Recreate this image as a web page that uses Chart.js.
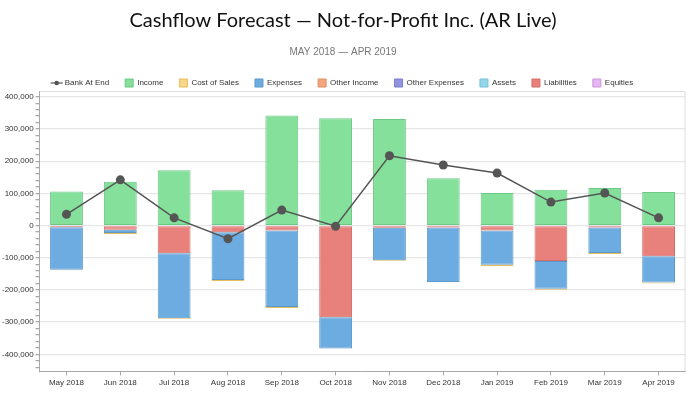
<!DOCTYPE html>
<html>
<head>
<meta charset="utf-8">
<script src="https://cdn.jsdelivr.net/npm/chart.js@4.4.1/dist/chart.umd.min.js"></script>
<style>
  html, body { margin: 0; padding: 0; background: #fff; }
  #wrap { width: 690px; height: 393px; }
</style>
</head>
<body>
<div id="wrap"><canvas id="cashChart"></canvas></div>
<script>
// Monatsachse und Werte
const months = ['May 2018', 'Jun 2018', 'Jul 2018', 'Aug 2018', 'Sep 2018', 'Oct 2018',
  'Nov 2018', 'Dec 2018', 'Jan 2019', 'Feb 2019', 'Mar 2019', 'Apr 2019'];

const bankAtEnd    = [35000, 142000, 24000, -41000, 48000, -2000, 217000, 188000, 163000, 73000, 101000, 24000];
const income       = [106000, 136000, 172000, 110000, 342000, 333000, 331000, 147000, 101000, 111000, 117000, 104000];
const costOfSales  = [-2000, -4000, -2000, -3000, -3000, -1000, -2000, -1000, -4000, -3000, -3000, -3000];
const expenses     = [-132000, -10000, -202000, -148000, -238000, -97000, -101000, -169000, -107000, -86000, -79000, -82000];
const otherIncome  = [0, 0, 0, 0, 0, 0, 0, 0, 0, 0, 0, 0];
const otherExpense = [0, 0, 0, 0, 0, 0, 0, 0, 0, 0, 0, 0];
const assets       = [0, 0, 0, 0, 0, 0, 0, 0, 0, 0, 0, 0];
const liabilities  = [-5000, -13000, -86000, -21000, -15000, -285000, -7000, -6000, -15000, -110000, -6000, -95000];
const equities     = [0, 0, 0, 0, 0, 0, 0, 0, 0, 0, 0, 0];

// Achse
const yMin = -453000;
const yMax = 418000;
const yMajorTicks = [-400000, -300000, -200000, -100000, 0, 100000, 200000, 300000, 400000];
const yMinorStep = 20000;

const fmt = v => Number(v).toLocaleString('en-US');

function barSet(label, data, bg, border, order) {
  return {
    type: 'bar',
    label: label,
    data: data,
    backgroundColor: bg,
    borderColor: border,
    borderWidth: 1,
    borderSkipped: false,
    order: order,
    barPercentage: 0.61,
    categoryPercentage: 1
  };
}

// Linie + Punkt fuer den ersten Legenden-Eintrag, Rahmen oben/rechts
const extras = {
  id: 'extras',
  beforeDatasetsDraw(chart) {
    const { ctx, chartArea: a } = chart;
    ctx.save();
    ctx.strokeStyle = '#dedede';
    ctx.lineWidth = 1;
    ctx.beginPath();
    ctx.moveTo(a.left, a.top + 0.5);
    ctx.lineTo(a.right - 0.5, a.top + 0.5);
    ctx.lineTo(a.right - 0.5, a.bottom);
    ctx.stroke();
    ctx.restore();
  },
  afterDraw(chart) {
    const hb = chart.legend && chart.legend.legendHitBoxes[0];
    if (!hb) return;
    const ctx = chart.ctx;
    const cy = hb.top + hb.height / 2;
    const cx = hb.left + 4;
    ctx.save();
    ctx.strokeStyle = '#555';
    ctx.fillStyle = '#555';
    ctx.lineWidth = 1.2;
    ctx.beginPath();
    ctx.moveTo(cx - 6, cy);
    ctx.lineTo(cx + 6, cy);
    ctx.stroke();
    ctx.beginPath();
    ctx.arc(cx, cy, 2.3, 0, Math.PI * 2);
    ctx.fill();
    ctx.restore();
  }
};

const legendOrder = ['Bank At End', 'Income', 'Cost of Sales', 'Expenses', 'Other Income',
  'Other Expenses', 'Assets', 'Liabilities', 'Equities'];

const chart = new Chart(document.getElementById('cashChart'), {
  data: {
    labels: months,
    datasets: [
      {
        type: 'line',
        label: 'Bank At End',
        data: bankAtEnd,
        borderColor: '#555555',
        backgroundColor: '#555555',
        borderWidth: 1.5,
        pointRadius: 4.5,
        pointBackgroundColor: '#555555',
        pointBorderWidth: 0,
        tension: 0,
        order: 0
      },
      barSet('Income', income, '#84e09a', '#6cc884', 1),
      barSet('Cost of Sales', costOfSales, '#f7d88a', '#e6be5a', 4),
      barSet('Expenses', expenses, '#6cace0', '#5b98cc', 3),
      barSet('Other Income', otherIncome, '#f4a77e', '#dd8f66', 5),
      barSet('Other Expenses', otherExpense, '#9093e0', '#7a7dcc', 6),
      barSet('Assets', assets, '#93d8ea', '#78c0d4', 7),
      barSet('Liabilities', liabilities, '#e8807b', '#d46d68', 2),
      barSet('Equities', equities, '#e6b5f3', '#cc98da', 8)
    ]
  },
  options: {
    responsive: true,
    maintainAspectRatio: false,
    animation: false,
    layout: { padding: { left: 0, right: 4, bottom: 2, top: 0 } },
    plugins: {
      title: {
        display: true,
        text: 'Cashflow Forecast \u2014 Not-for-Profit Inc. (AR Live)',
        color: '#111',
        font: { family: 'Lato', size: 20, weight: 'normal' },
        padding: { top: 9, bottom: 13 }
      },
      subtitle: {
        display: true,
        text: 'MAY 2018 \u2014 APR 2019',
        color: '#777',
        font: { family: 'Liberation Sans', size: 10 },
        padding: { top: 0, bottom: 5 }
      },
      legend: {
        display: true,
        position: 'top',
        labels: {
          font: { family: 'Liberation Sans', size: 8 },
          color: '#333',
          boxWidth: 8,
          boxHeight: 8,
          padding: 16,
          sort: (a, b) => legendOrder.indexOf(a.text) - legendOrder.indexOf(b.text),
          generateLabels(chart) {
            return chart.data.datasets.map((ds, i) => ({
              text: ds.label,
              fillStyle: ds.type === 'line' ? 'rgba(0,0,0,0)' : ds.backgroundColor,
              strokeStyle: ds.type === 'line' ? 'rgba(0,0,0,0)' : ds.borderColor,
              lineWidth: 1,
              fontColor: '#333',
              hidden: false,
              datasetIndex: i
            }));
          }
        }
      },
      tooltip: { enabled: false }
    },
    scales: {
      x: {
        stacked: true,
        offset: true,
        grid: {
          display: true,
          drawOnChartArea: false,
          offset: false,
          tickLength: 4,
          color: '#a8a8a8'
        },
        border: { color: '#a8a8a8' },
        ticks: {
          color: '#333',
          font: { family: 'Liberation Sans', size: 8 },
          padding: 3,
          maxRotation: 0,
          autoSkip: false
        }
      },
      y: {
        stacked: true,
        min: yMin,
        max: yMax,
        afterBuildTicks: axis => {
          const lo = yMajorTicks[0] - 2 * yMinorStep;
          const hi = yMajorTicks[yMajorTicks.length - 1];
          const list = [];
          for (let v = lo; v <= hi; v += yMinorStep) list.push({ value: v });
          axis.ticks = list;
        },
        grid: {
          color: c => (c.tick && yMajorTicks.includes(c.tick.value)) ? '#e6e6e6' : 'rgba(0,0,0,0)',
          tickColor: '#a8a8a8',
          tickLength: 4,
          lineWidth: 1.3
        },
        border: { color: '#a8a8a8' },
        ticks: {
          color: '#333',
          font: { family: 'Liberation Sans', size: 8 },
          padding: 2,
          autoSkip: false,
          callback: v => (yMajorTicks.includes(v) ? fmt(v) : '')
        }
      }
    }
  },
  plugins: [extras]
});

// Legende unten etwas enger, damit die Zeichenflaeche hoeher beginnt
const legendFit = chart.legend.fit.bind(chart.legend);
chart.legend.fit = function () {
  legendFit();
  this.height -= 6;
};
chart.update();
</script>
</body>
</html>
